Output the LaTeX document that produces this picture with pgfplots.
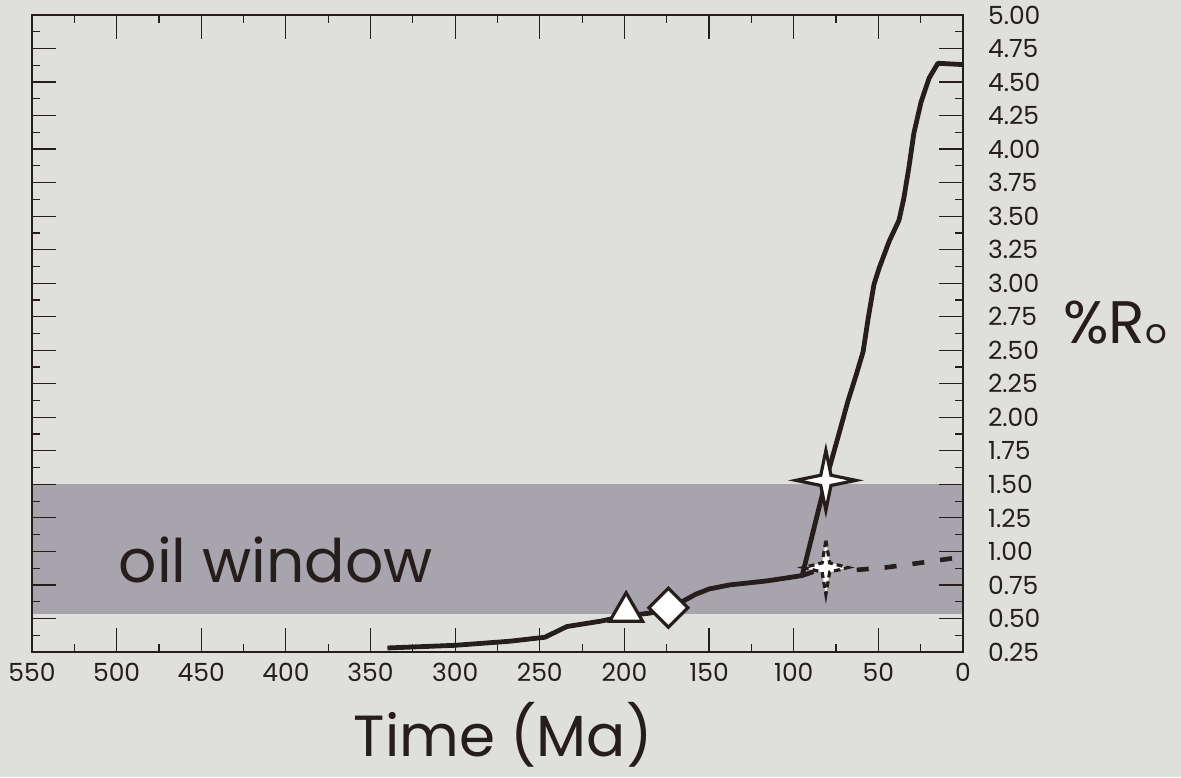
\documentclass[border=0pt]{standalone}
\usepackage{pgfplots}
\pgfplotsset{compat=1.18}
\usepackage{fontspec}
\setmainfont{Poppins}
\definecolor{bg}{RGB}{223,224,220}
\definecolor{band}{RGB}{168,164,174}
\definecolor{ink}{RGB}{38,30,28}
\pgfdeclareplotmark{fourstar}{%
  \pgfpathmoveto{\pgfqpoint{0pt}{\pgfplotmarksize}}%
  \pgfpathlineto{\pgfqpoint{0.17\pgfplotmarksize}{0.17\pgfplotmarksize}}%
  \pgfpathlineto{\pgfqpoint{\pgfplotmarksize}{0pt}}%
  \pgfpathlineto{\pgfqpoint{0.17\pgfplotmarksize}{-0.17\pgfplotmarksize}}%
  \pgfpathlineto{\pgfqpoint{0pt}{-\pgfplotmarksize}}%
  \pgfpathlineto{\pgfqpoint{-0.17\pgfplotmarksize}{-0.17\pgfplotmarksize}}%
  \pgfpathlineto{\pgfqpoint{-\pgfplotmarksize}{0pt}}%
  \pgfpathlineto{\pgfqpoint{-0.17\pgfplotmarksize}{0.17\pgfplotmarksize}}%
  \pgfpathclose
  \pgfusepathqfillstroke}
\begin{document}
\begin{tikzpicture}
\path[use as bounding box, fill=bg] (-16pt,-62.5pt) rectangle (574.5pt,326pt);
\begin{axis}[
  at={(0,0)}, anchor=south west,
  scale only axis, width=465.5pt, height=318.5pt,
  x dir=reverse, xmin=0, xmax=550, ymin=0.25, ymax=5,
  xtick={0,50,100,150,200,250,300,350,400,450,500,550},
  ytick={0.25,0.5,0.75,1,1.25,1.5,1.75,2,2.25,2.5,2.75,3,3.25,3.5,3.75,4,4.25,4.5,4.75,5},
  minor x tick num=1, minor y tick num=1,
  xtick pos=both, ytick pos=both,
  xticklabel pos=left, yticklabel pos=right,
  tick align=inside,
  major tick length=12pt, minor tick length=4pt,
  axis line style={ink, line width=0.6pt},
  tick style={ink, line width=0.6pt},
  /pgf/number format/assume math mode=true,
  xticklabel style={font=\fontsize{12.5}{12.5}\selectfont, text=ink, yshift=-2pt},
  yticklabel style={font=\fontsize{12.5}{12.5}\selectfont, text=ink, xshift=9pt,
    /pgf/number format/.cd, fixed, fixed zerofill, precision=2},
  axis on top,
  clip=false,
]
\addplot[fill=band, draw=none] coordinates {(0,0.53) (550,0.53) (550,1.50) (0,1.50)} -- cycle;
\addplot[ink, line width=2.3pt, dash pattern=on 6pt off 8pt] coordinates {
  (95,0.82) (81,0.88) (65,0.86) (46,0.88) (28,0.91) (0,0.96)};
\addplot[ink, line width=2.4pt, line join=round] coordinates {
  (340,0.28) (300,0.30) (268,0.33) (247,0.36) (234,0.44) (214,0.48) (199,0.52)
  (185,0.54) (174,0.57) (158,0.68) (150,0.72) (138,0.75) (116,0.78) (95,0.82)
  (81,1.53) (73,1.89) (68,2.12) (63,2.32) (59,2.49) (56,2.74) (52.6,2.99)
  (49.6,3.11) (43.7,3.31) (37.8,3.47) (35,3.63) (32,3.86) (29,4.12)
  (24.8,4.35) (20,4.53) (14.8,4.64) (0,4.63)};
\addplot[only marks, mark=triangle*, mark size=9.5pt,
  mark options={fill=white, draw=ink, line width=1.6pt}] coordinates {(199,0.55)};
\addplot[only marks, mark=square*, mark size=6.9pt,
  mark options={rotate=45, fill=white, draw=ink, line width=1.6pt}] coordinates {(174,0.58)};
\addplot[only marks, mark=fourstar, mark size=15pt,
  mark options={fill=white, draw=ink, line width=1.6pt}] coordinates {(81,1.53)};
\addplot[only marks, mark=fourstar, mark size=13.5pt,
  mark options={xscale=0.82, fill=white, draw=ink, line width=1.6pt, dash pattern=on 3pt off 2pt}] coordinates {(81,0.88)};
\node[anchor=base west, font=\fontsize{30}{30}\selectfont, text=ink] at (axis cs:503,0.77) {oil window};
\node[anchor=base west, font=\fontsize{30}{30}\selectfont, text=ink] at (rel axis cs:1.10,0.484) {\%R{\fontsize{17}{17}\selectfont o}};
\node[anchor=base, yshift=-52pt, font=\fontsize{29}{29}\selectfont, text=ink] at (rel axis cs:0.506,0) {Time (Ma)};
\end{axis}
\end{tikzpicture}
\end{document}
